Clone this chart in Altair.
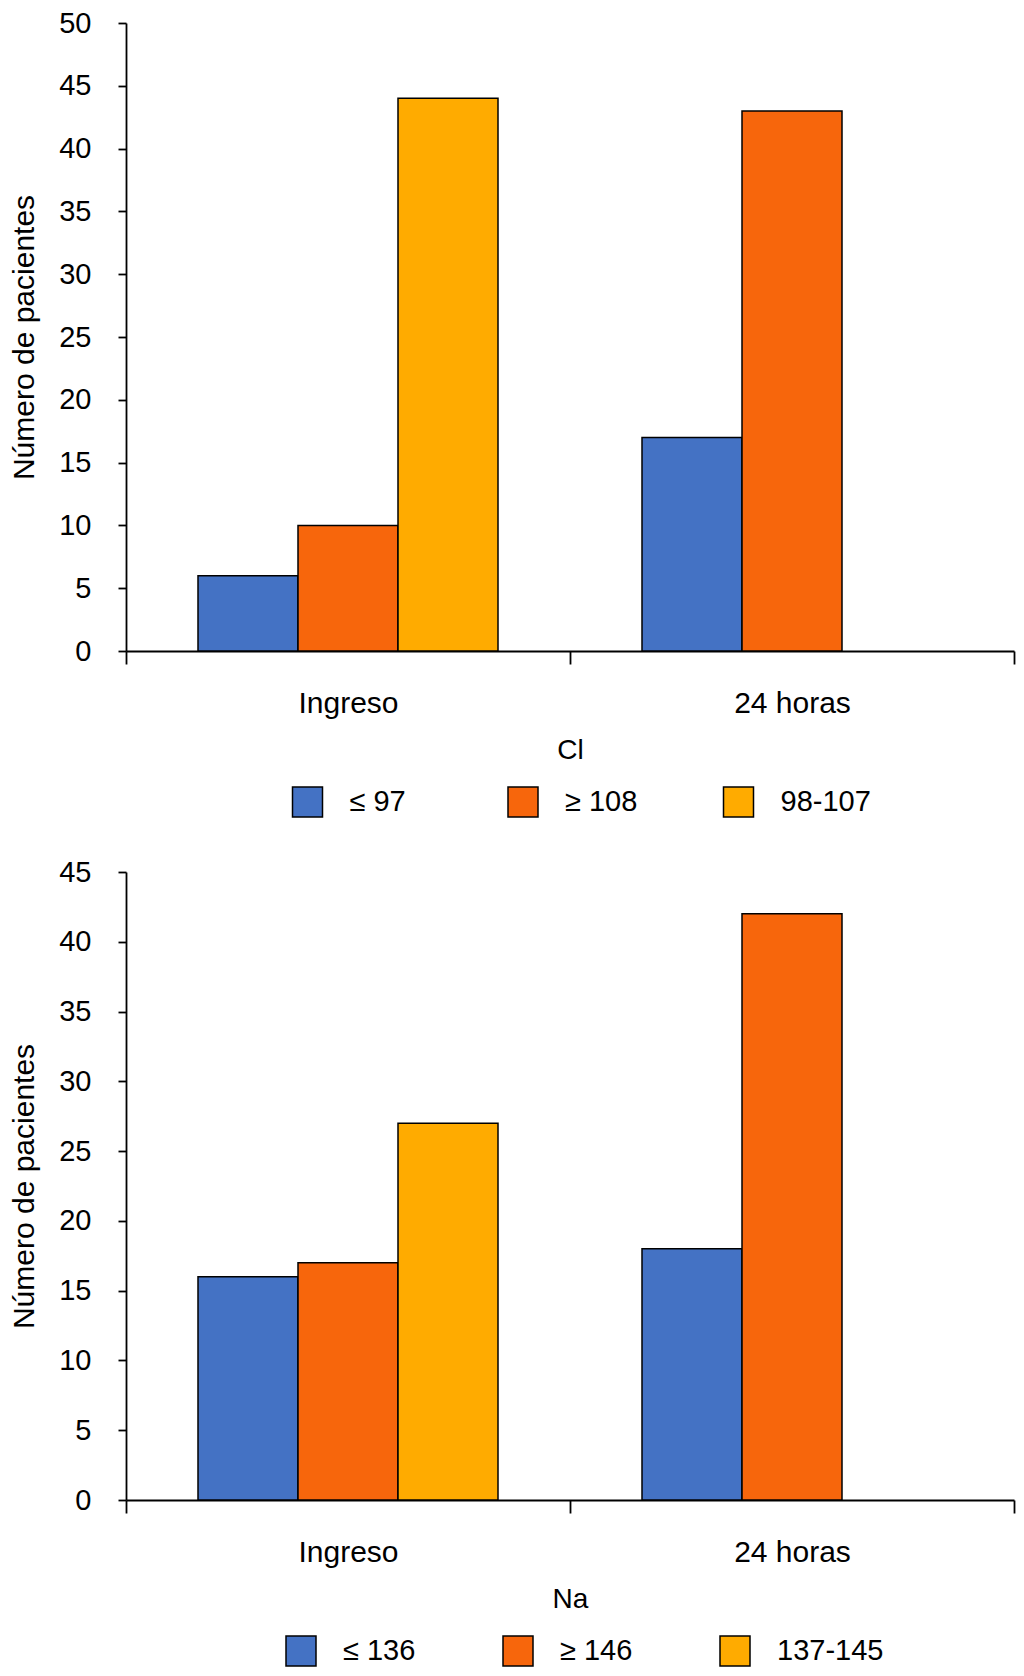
import altair as alt
import pandas as pd

periods = ["Ingreso", "24 horas"]

cl_groups = ["≤ 97", "≥ 108", "98-107"]
cl_ingreso = [6, 10, 44]
cl_24h = [17, 43]          # no 98-107 bar at 24 horas

na_groups = ["≤ 136", "≥ 146", "137-145"]
na_ingreso = [16, 17, 27]
na_24h = [18, 42]          # no 137-145 bar at 24 horas

colors = ["#4472C4", "#F7660C", "#FFAB00"]

FONT = "Liberation Sans"


def make_df(groups, ingreso, h24):
    rows = []
    for g, v in zip(groups, ingreso):
        rows.append({"periodo": periods[0], "grupo": g, "n": v})
    for g, v in zip(groups, h24):
        rows.append({"periodo": periods[1], "grupo": g, "n": v})
    return pd.DataFrame(rows)


def panel(df, groups, xtitle, ymax, legend_x, col_pad):
    return alt.Chart(df).mark_bar(stroke="black", strokeWidth=1.5).encode(
        x=alt.X("periodo:N", sort=periods,
                scale=alt.Scale(paddingInner=0, paddingOuter=0),
                axis=alt.Axis(title=xtitle, labelAngle=0, tickBand="extent",
                              tickSize=13, labelPadding=24, titlePadding=18,
                              labelFontSize=30, titleFontSize=28,
                              titleFontWeight="normal")),
        xOffset=alt.XOffset("grupo:N", sort=groups,
                            scale=alt.Scale(domain=groups, paddingInner=0, paddingOuter=0.72)),
        y=alt.Y("n:Q", scale=alt.Scale(domain=[0, ymax], nice=False),
                axis=alt.Axis(title="Número de pacientes", values=list(range(0, ymax + 1, 5)),
                              tickSize=8, labelPadding=27, titlePadding=19,
                              labelFontSize=29, titleFontSize=30, titleFontWeight="normal",
                              grid=False)),
        color=alt.Color("grupo:N", sort=groups,
                        scale=alt.Scale(domain=groups, range=colors),
                        legend=alt.Legend(title=None, orient="none", direction="horizontal",
                                          legendX=legend_x, legendY=763,
                                          gridAlign="all", columnPadding=col_pad,
                                          symbolType="square", symbolSize=900,
                                          symbolStrokeColor="black", symbolStrokeWidth=1.5,
                                          symbolOpacity=1, labelFontSize=29, labelOffset=26,
                                          labelColor="black")),
    ).properties(width=888, height=628)


top = panel(make_df(cl_groups, cl_ingreso, cl_24h), cl_groups, "Cl", 50, 165.5, 64.5)
bottom = panel(make_df(na_groups, na_ingreso, na_24h), na_groups, "Na", 45, 159, 50)

chart = alt.vconcat(top, bottom, spacing=38).resolve_scale(
    color="independent", xOffset="independent", y="independent"
).properties(
    padding={"left": 1, "top": 1, "right": 1, "bottom": 0}
).configure(
    font=FONT
).configure_view(
    stroke=None
).configure_axis(
    domainColor="black", domainWidth=1.8, tickColor="black", tickWidth=1.8,
    labelColor="black", titleColor="black", labelFont=FONT, titleFont=FONT
).configure_legend(
    labelFont=FONT
)

chart.save("out.html", embed_options={"renderer": "svg", "actions": False})
